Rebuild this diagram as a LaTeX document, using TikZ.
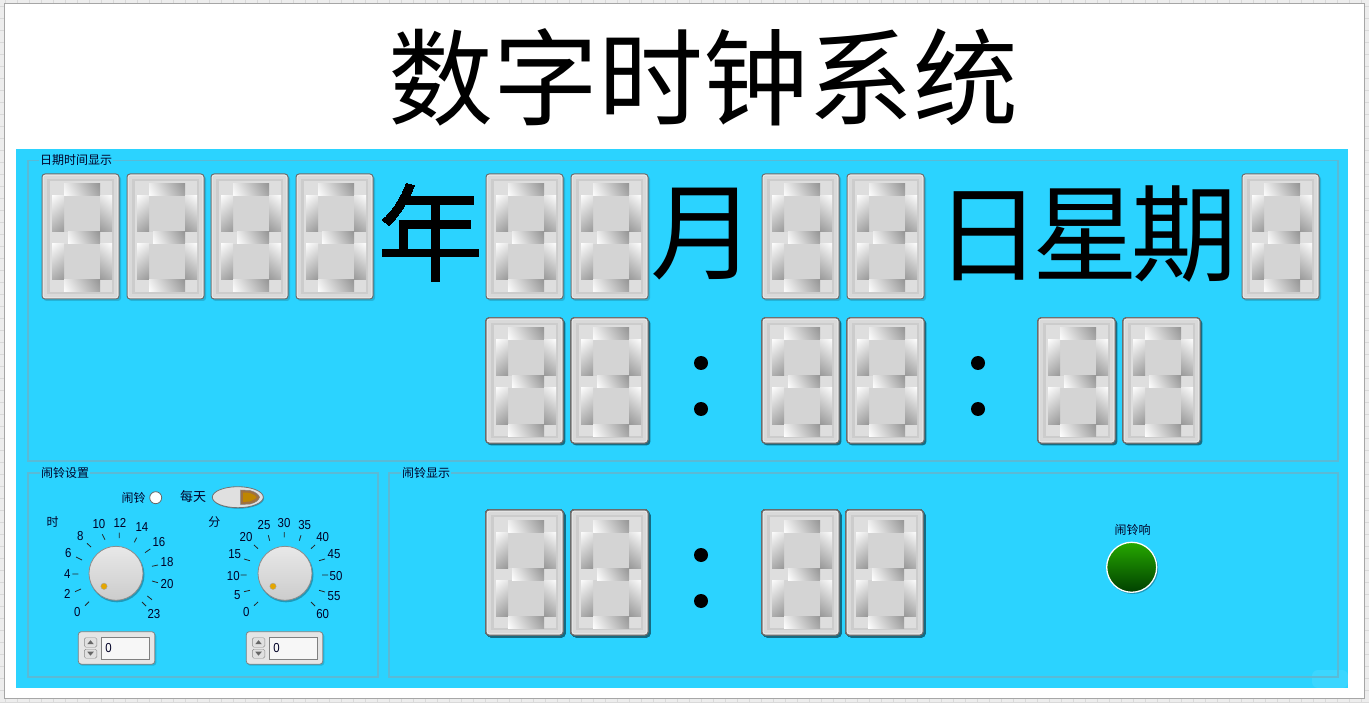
\documentclass[tikz,border=0pt]{standalone}
\usepackage{fontspec}
\setmainfont{Noto Sans CJK SC}
\newfontfamily\latinf[FakeStretch=0.88]{Liberation Sans}
\definecolor{panelblue}{HTML}{2BD3FF}
\definecolor{groupline}{HTML}{5ABAD6}
\definecolor{gridline}{HTML}{D9D9D9}
\definecolor{pagegrey}{HTML}{EDEDED}
\tikzset{
  big/.style={font=\fontsize{106pt}{106pt}\selectfont,text=black,inner sep=0pt},
  small/.style={font=\fontsize{12pt}{12pt}\selectfont,text=black!85!blue,inner sep=0pt},
  tick/.style={font=\latinf\fontsize{13pt}{13pt}\selectfont,text=black!85!blue,inner sep=0pt},
  grouprect/.style={draw=groupline,line width=1.1pt},
  dotmark/.style={circle,fill=black,minimum size=14pt,inner sep=0pt},
  tickline/.style={draw=black!85,line width=.8pt},
  shadowbox/.style={fill=black!50!panelblue,opacity=.3},
}
% gradient segment: corners #1,#2 and #3,#4; shading angle #5; half side of the shaded square #6
\newcommand{\segshade}[6]{%
\begin{scope}
  \clip (#1,#2) rectangle (#3,#4);
  \shade[top color=white,bottom color=black!42,shading angle=#5]
    ({(#1+#3)/2-#6},{(#2+#4)/2-#6}) rectangle ({(#1+#3)/2+#6},{(#2+#4)/2+#6});
\end{scope}}
% 7-segment display: top-left corner #1,#2
\newcommand{\digitbox}[2]{%
\begin{scope}[shift={(#1,#2)}]
  \fill[shadowbox,rounded corners=3pt] (1.5,2) rectangle (79,127);
  \draw[draw=black!58,line width=1pt,fill=black!15,rounded corners=3pt] (0,0) rectangle (77,125);
  \draw[draw=black!8,line width=.7pt,rounded corners=2pt] (1.2,1.2) rectangle (75.8,123.8);
  \fill[black!20] (5,5) rectangle (72,120);
  \fill[black!13] (8,7) rectangle (70,118);
  \fill[black!17] (22,22) rectangle (58,58);
  \fill[black!17] (22,70) rectangle (58,106);
  \segshade{22}{10}{58}{22}{120}{19}
  \segshade{10}{22}{22}{58}{40}{19}
  \segshade{58}{22}{70}{58}{320}{19}
  \segshade{26}{58}{58}{70}{120}{17}
  \segshade{10}{70}{22}{106}{40}{19}
  \segshade{58}{70}{70}{106}{320}{19}
  \segshade{22}{106}{58}{118}{120}{19}
\end{scope}}
% knob: centre #1,#2
\newcommand{\knobdial}[2]{%
  \fill[black!60!panelblue,opacity=.45] (#1+1,#2+1.5) circle (27.5);
  \shade[top color=black!9,bottom color=black!20,draw=black!45,line width=.8pt] (#1,#2) circle (27);
  \draw[fill=orange!55!yellow!90!black,draw=black!35,line width=.4pt] (#1-12,#2+13) circle (3.2);}
% numeric control: top-left #1,#2
\newcommand{\numctl}[2]{%
\begin{scope}[shift={(#1,#2)}]
  \fill[shadowbox,rounded corners=3pt] (1,1.5) rectangle (78,34);
  \draw[draw=black!50,line width=.8pt,fill=black!10,rounded corners=3pt] (0,0) rectangle (76.5,32.5);
  \draw[black!45,fill=black!12,rounded corners=1.5pt] (6,6) rectangle (18.5,15.5);
  \draw[black!45,fill=black!12,rounded corners=1.5pt] (6,17.5) rectangle (18.5,26.5);
  \fill[black!60] (12.2,8.5) -- (15.5,12.5) -- (9,12.5) -- cycle;
  \fill[black!60] (12.2,24) -- (15.5,20) -- (9,20) -- cycle;
  \draw[black!50,fill=white!97!black,line width=1pt] (23.5,5.5) rectangle (71,27.5);
\end{scope}}
\begin{document}
\begin{tikzpicture}[x=1pt,y=-1pt]
\useasboundingbox (0,0) rectangle (1369,703);
% work-sheet grid behind the panel
\fill[pagegrey] (0,0) rectangle (1369,703);
\foreach \gx in {5,17,...,1369} \draw[gridline,line width=.7pt] (\gx,0) -- (\gx,703);
\foreach \gy in {6,18,...,703} \draw[gridline,line width=.7pt] (0,\gy) -- (1369,\gy);
\fill[white,draw=black!35,line width=1pt] (4,4) rectangle (1364,698);
\node[big,font=\fontsize{105pt}{105pt}\selectfont] (title) at (703,77) {数字时钟系统};
% blue panel
\fill[panelblue] (16,149) rectangle (1348,688);
\fill[white,opacity=.08,rounded corners=6pt] (1312,670) rectangle (1348,688);
\draw[grouprect] (28,160.5) rectangle (1338,461);
\draw[grouprect] (28,473) rectangle (378,677);
\draw[grouprect] (389,473) rectangle (1338,677);
\node[small,fill=panelblue,inner xsep=1pt,anchor=west] (gdate) at (39,160) {日期时间显示};
\node[small,fill=panelblue,inner xsep=1pt,anchor=west] (gset) at (40,472.5) {闹铃设置};
\node[small,fill=panelblue,inner xsep=1pt,anchor=west] (gshow) at (401,472.5) {闹铃显示};
% displays
\foreach \dx in {42,127,211,296,486,571,762,847,1242} \digitbox{\dx}{174}
\foreach \dx in {486,571,762,847,1038,1123} \digitbox{\dx}{318}
\foreach \dx in {486,571,762,846} \digitbox{\dx}{510}
% large captions
\node[big] (nian) at (430,233) {年};
\node[big] (yue) at (703,234) {月};
\node[big] (riqi) at (1086,234) {日\hspace{-9pt}星\hspace{-7pt}期};
\node[dotmark] (c1a) at (701,363) {};
\node[dotmark] (c1b) at (701,409) {};
\node[dotmark] (c2a) at (978,363) {};
\node[dotmark] (c2b) at (978,409) {};
\node[dotmark] (c3a) at (701,555) {};
\node[dotmark] (c3b) at (701,601) {};
% alarm settings row
\node[small] (lalarm) at (133.5,497.5) {闹铃};
\draw[fill=white,draw=black!60,line width=.8pt] (155.7,497.7) circle (6);
\node[small,font=\fontsize{13pt}{13pt}\selectfont] (leveryday) at (193,497) {每天};
\fill[black!60!panelblue,opacity=.45] (238.5,498.2) ellipse (25.5 and 10.5);
\draw[draw=black!55,fill=black!12,line width=.8pt] (237.8,497.2) ellipse (25.5 and 10.5);
\draw[draw=black!50,fill=orange!50!black!75!white,line width=.5pt] (240.7,490) -- (250,490.5) .. controls (256,492) and (259,495) .. (259.5,497.2) .. controls (259,500) and (256,502.5) .. (250,504) -- (240.7,504.5) -- cycle;
\fill[orange!60!yellow!75!black] (243,492.5) -- (249,492.8) .. controls (253,494) and (256,496) .. (256.5,497.2) .. controls (256,498.5) and (253,500.5) .. (249,501.5) -- (243,502) -- cycle;
\node[small] (lhour) at (52.7,521.7) {时};
\node[small] (lmin) at (214.3,521.7) {分};
% hour knob
\knobdial{116}{573.3}
\foreach \lx/\ly/\ltxt [count=\li] in {77.3/612.3/0,67.3/593.7/2,67.3/574/4,68.3/553.3/6,80.3/535.7/8,99/523.7/10,120/522.7/12,142/527.3/14,159/541.7/16,167/562.3/18,167/583.7/20,154/613.7/23}
  \node[tick] (h\li) at (\lx,\ly) {\ltxt};
\draw[tickline] (85,605.7) -- (89,601.7) (75,591.7) -- (81,589) (72.3,574) -- (78.3,574) (76,557) -- (82,560) (87,543.3) -- (91,547) (102.3,534.3) -- (105,539.7) (119.3,532.7) -- (119.3,538) (134.3,542.3) -- (136.7,537.7) (145,552.7) -- (150.3,549) (152,566.3) -- (158,565) (152,581) -- (158,582.7) (147.3,596) -- (152,599.7) (142,602) -- (146,606);
% minute knob
\knobdial{285}{573.3}
\foreach \lx/\ly/\ltxt [count=\li] in {246.3/612.3/0,237.3/595/5,233.3/575.7/10,234.7/554.3/15,246/536.7/20,264/524.7/25,284/522.7/30,304.7/524.7/35,322.7/536.7/40,334/554.3/45,336/575.7/50,334/595.7/55,322.7/613.7/60}
  \node[tick] (m\li) at (\lx,\ly) {\ltxt};
\draw[tickline] (254,605.7) -- (258,602) (244,591.7) -- (250,590.3) (240.7,575) -- (246.7,575) (244,559) -- (250,560.7) (254,545) -- (258,548.7) (268.3,535.3) -- (269.7,540.7) (284.3,532) -- (284.3,537.3) (301,535.3) -- (299.3,540.7) (315,545) -- (311,548.7) (325,559) -- (319,560.7) (322,575) -- (328,575) (319,590.3) -- (325,592) (311,602) -- (315,606);
% numeric controls
\numctl{78.3}{631.7}
\numctl{246.3}{631.7}
\node[tick] (v1) at (108.5,648.5) {0};
\node[tick] (v2) at (276.5,648.5) {0};
% alarm LED
\node[small] (lring) at (1132.7,530) {闹铃响};
\fill[black!60!panelblue,opacity=.45] (1132.7,568.5) circle (25.5);
\shade[top color=green!60!black!85!yellow,bottom color=green!25!black,draw=white,line width=1.3pt] (1131.7,567.3) circle (25);
\end{tikzpicture}
\end{document}
